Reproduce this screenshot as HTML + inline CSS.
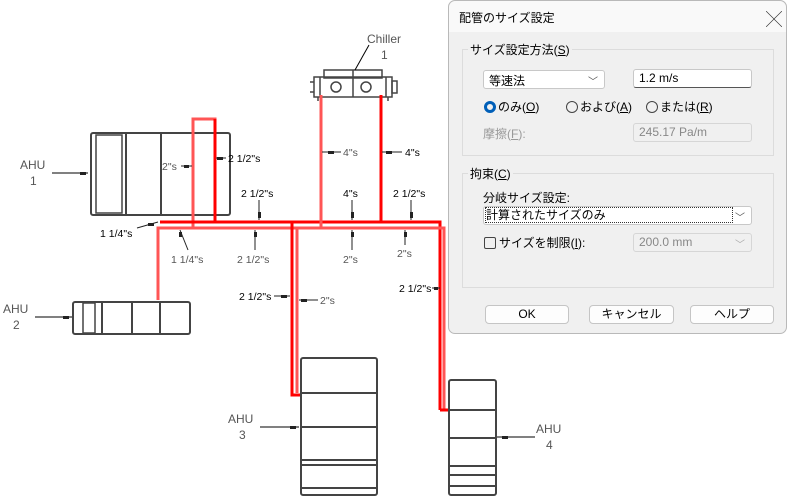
<!DOCTYPE html>
<html><head><meta charset="utf-8">
<style>
*{margin:0;padding:0;box-sizing:border-box}
body{width:788px;height:502px;background:#fff;position:relative;overflow:hidden;font-family:"Liberation Sans","Noto Sans CJK JP",sans-serif}
svg{position:absolute;left:0;top:0}
.t{font-family:"Liberation Sans",sans-serif;font-size:10.5px}
.L{font-size:12px}
#dlg{position:absolute;left:448px;top:0;width:339px;height:334px;background:#f0f0f0;border:1px solid #b9b9b9;border-radius:7px;font-size:12px;color:#000}
.a{position:absolute;white-space:nowrap}
.grp{position:absolute;border:1px solid #dcdcdc}
.lg{position:absolute;background:#f0f0f0;padding:0 2px;font-size:12px}
.box{position:absolute;background:#fff;border:1px solid #c8c8c8;border-radius:3px;font-size:12px;padding:2px 5px}
.dis{background:#f0f0f0;color:#888;border:1px solid #d6d6d6}
.btn{position:absolute;background:#fdfdfd;border:1px solid #c5c5c5;border-radius:4px;text-align:center;font-size:12px;line-height:17px;height:19px}
.rad{display:inline-block;width:12px;height:12px;border:1px solid #444;border-radius:50%;vertical-align:-2px;margin-right:2px}
.chev{position:absolute;right:6px;top:2px;color:#555;font-size:10px}
</style></head><body>
<svg width="788" height="502" viewBox="0 0 788 502">
<g fill="none" stroke="#444" stroke-width="2">
<rect x="91" y="133" width="139" height="82" rx="2"/>
<rect x="96" y="135" width="26" height="78" stroke-width="1.5"/>
<line x1="126" y1="133" x2="126" y2="215"/><line x1="161" y1="133" x2="161" y2="215"/><line x1="193" y1="133" x2="193" y2="215"/>
<rect x="73" y="302" width="117" height="32" rx="2"/>
<rect x="83" y="303" width="12" height="30" stroke-width="1.5"/>
<line x1="102" y1="302" x2="102" y2="334"/><line x1="132" y1="302" x2="132" y2="334"/><line x1="160" y1="302" x2="160" y2="334"/>
<rect x="301" y="358" width="76" height="137" rx="2"/>
<line x1="301" y1="393" x2="377" y2="393"/><line x1="301" y1="427" x2="377" y2="427"/><line x1="301" y1="460" x2="377" y2="460"/><line x1="301" y1="465" x2="377" y2="465"/><line x1="301" y1="488" x2="377" y2="488"/>
<rect x="449" y="380" width="47" height="115" rx="2"/>
<line x1="449" y1="410" x2="496" y2="410"/><line x1="449" y1="438" x2="496" y2="438"/><line x1="449" y1="466" x2="496" y2="466"/><line x1="449" y1="475" x2="496" y2="475"/><line x1="449" y1="486" x2="496" y2="486"/>
<g stroke-width="1.5">
<rect x="314" y="77" width="78" height="20"/>
<rect x="324" y="70" width="58" height="8"/>
<line x1="353" y1="70" x2="353" y2="97"/>
<circle cx="336" cy="87" r="5"/><circle cx="366" cy="87" r="5"/>
<rect x="392" y="81" width="5" height="12"/>
<line x1="320" y1="77" x2="320" y2="97"/><line x1="386" y1="77" x2="386" y2="97"/>
<line x1="310" y1="82" x2="314" y2="82"/><line x1="310" y1="92" x2="314" y2="92"/>
<line x1="318" y1="97" x2="318" y2="101"/><line x1="388" y1="97" x2="388" y2="101"/>
</g>
</g>
<g stroke="#000" stroke-width="1">
<line x1="52" y1="173" x2="88" y2="173"/><line x1="35" y1="317" x2="72" y2="317"/>
<line x1="260" y1="427" x2="299" y2="427"/><line x1="497" y1="437" x2="535" y2="437"/>
<line x1="369" y1="45" x2="355" y2="70"/>
</g>
<g fill="#222">
<rect x="80" y="172" width="6" height="3"/><rect x="63" y="316" width="6" height="3"/>
<rect x="290" y="426" width="6" height="3"/><rect x="502" y="436" width="6" height="3"/>
</g>
<g fill="none" stroke-linejoin="miter">
<path d="M193 227 V119 H215 V223" stroke="#f55" stroke-width="3"/>
<path d="M215 119 V223" stroke="#f00" stroke-width="3"/>
<path d="M160 222 H440 V410" stroke="#f00" stroke-width="3"/>
<path d="M158 300 V228 H444 V410" stroke="#f55" stroke-width="3"/>
<path d="M321 95 V229" stroke="#f55" stroke-width="3"/>
<path d="M381 95 V222" stroke="#f00" stroke-width="3"/>
<path d="M292 222 V395 H300" stroke="#f00" stroke-width="3"/>
<path d="M297 228 V393" stroke="#f55" stroke-width="3"/>
<path d="M440 410 H448" stroke="#f00" stroke-width="3"/>
</g>
<g stroke="#222" stroke-width="1">
<line x1="216" y1="158" x2="226" y2="158"/><line x1="181" y1="166" x2="192" y2="166"/>
<line x1="322" y1="152" x2="341" y2="152"/><line x1="382" y1="152" x2="402" y2="152"/>
<line x1="259" y1="200" x2="259" y2="220"/><line x1="352" y1="200" x2="352" y2="220"/><line x1="411" y1="200" x2="411" y2="220"/>
<line x1="137" y1="228" x2="158" y2="222"/><line x1="180" y1="230" x2="188" y2="250"/>
<line x1="255" y1="230" x2="255" y2="250"/><line x1="352" y1="230" x2="352" y2="250"/><line x1="405" y1="230" x2="405" y2="245"/>
<line x1="274" y1="296" x2="290" y2="296"/><line x1="299" y1="300" x2="318" y2="300"/><line x1="432" y1="288" x2="440" y2="288"/>
</g>
<g fill="#222">
<rect x="217" y="157" width="6" height="3"/><rect x="184" y="165" width="5" height="3"/>
<rect x="328" y="151" width="6" height="3"/><rect x="386" y="151" width="6" height="3"/>
<rect x="258" y="212" width="3" height="6"/><rect x="351" y="212" width="3" height="6"/><rect x="410" y="212" width="3" height="6"/>
<rect x="148" y="223" width="6" height="3"/><rect x="179" y="232" width="3" height="5"/>
<rect x="254" y="232" width="3" height="5"/><rect x="351" y="232" width="3" height="5"/><rect x="404" y="232" width="3" height="5"/>
<rect x="281" y="295" width="6" height="3"/><rect x="301" y="299" width="6" height="3"/><rect x="434" y="287" width="4" height="3"/>
</g>
<g class="t" fill="#000">
<text x="228" y="162">2 1/2"s</text>
<text x="405" y="156">4"s</text>
<text x="241" y="197">2 1/2"s</text>
<text x="343" y="197">4"s</text>
<text x="393" y="197">2 1/2"s</text>
<text x="100" y="237">1 1/4"s</text>
<text x="239" y="300">2 1/2"s</text>
<text x="399" y="292">2 1/2"s</text>
</g>
<g class="t" fill="#555">
<text x="162" y="170">2"s</text>
<text x="343" y="156">4"s</text>
<text x="171" y="263">1 1/4"s</text>
<text x="237" y="263">2 1/2"s</text>
<text x="343" y="263">2"s</text>
<text x="397" y="257">2"s</text>
<text x="320" y="304">2"s</text>
</g>
<g class="t L" fill="#555">
<text x="20" y="169">AHU</text><text x="30" y="185">1</text>
<text x="3" y="313">AHU</text><text x="13" y="329">2</text>
<text x="228" y="423">AHU</text><text x="239" y="439">3</text>
<text x="536" y="433">AHU</text><text x="546" y="449">4</text>
<text x="367" y="43">Chiller</text><text x="381" y="59">1</text>
</g>
</svg>
<div id="dlg">
<div class="a" style="left:0;top:0;width:337px;height:31px;background:#f9f9f9;border-radius:7px 7px 0 0"></div>
<div class="a" style="left:10px;top:8px">配管のサイズ設定</div>
<div class="a" style="left:317px;top:5px;font-size:16px;color:#333;font-weight:100">╳</div>
<div class="grp" style="left:13px;top:48px;width:312px;height:107px"></div>
<div class="lg" style="left:19px;top:40px">サイズ設定方法(<u>S</u>)</div>
<div class="box" style="left:34px;top:69px;width:122px;height:19px;padding-top:1px">等速法<span class="chev">﹀</span></div>
<div class="box" style="left:184px;top:68px;width:119px;height:19px;border-bottom:1px solid #555;padding-top:1px">1.2 m/s</div>
<div class="a" style="left:35px;top:97px"><span class="rad" style="border:3.5px solid #005fb8"></span>のみ(<u>O</u>)</div>
<div class="a" style="left:117px;top:97px"><span class="rad"></span>および(<u>A</u>)</div>
<div class="a" style="left:197px;top:97px"><span class="rad"></span>または(<u>R</u>)</div>
<div class="a" style="left:34px;top:124px;color:#999">摩擦(<u>F</u>):</div>
<div class="box dis" style="left:184px;top:122px;width:119px;height:19px;padding-top:1px">245.17 Pa/m</div>
<div class="grp" style="left:13px;top:172px;width:312px;height:115px"></div>
<div class="lg" style="left:19px;top:164px">拘束(<u>C</u>)</div>
<div class="a" style="left:34px;top:188px">分岐サイズ設定:</div>
<div class="box" style="left:34px;top:205px;width:269px;height:19px;padding:1px 2px"><span style="outline:1px dotted #333;display:inline-block;width:246px;line-height:14px">計算されたサイズのみ</span><span class="chev">﹀</span></div>
<div class="a" style="left:35px;top:233px"><span style="display:inline-block;width:12px;height:12px;border:1px solid #444;border-radius:2px;vertical-align:-2px;margin-right:3px"></span>サイズを制限(<u>I</u>):</div>
<div class="box dis" style="left:184px;top:232px;width:119px;height:19px;padding-top:1px">200.0 mm<span class="chev" style="color:#aaa">﹀</span></div>
<div class="btn" style="left:36px;top:304px;width:84px">OK</div>
<div class="btn" style="left:140px;top:304px;width:85px">キャンセル</div>
<div class="btn" style="left:241px;top:304px;width:84px">ヘルプ</div>
</div>
</body></html>
